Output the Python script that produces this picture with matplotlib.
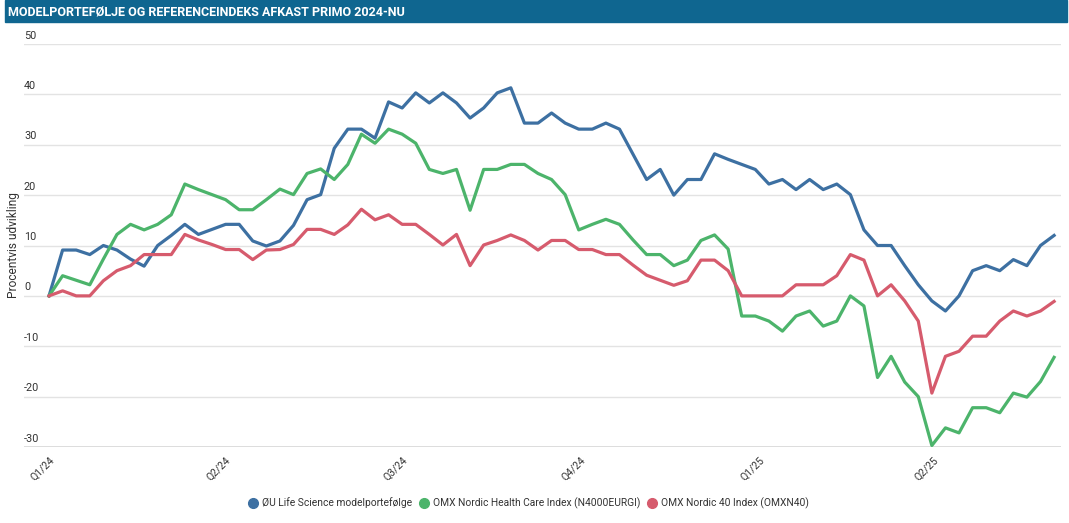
import pandas as pd
import matplotlib
matplotlib.use("Agg")
import matplotlib.pyplot as plt
from matplotlib.transforms import offset_copy

plt.rcParams['font.family'] = ['Roboto', 'DejaVu Sans']

# weekly observations, start of 2024 to now
dates = pd.date_range('2024-01-01', periods=75, freq='7D')

oeu_life_science = [
    0, 9.1, 9.1, 8.2, 10, 9.1, 7.3, 5.9, 10, 12, 14.2, 12.2, 13.2, 14.2, 14.2, 10.9,
    9.9, 10.9, 14, 19.1, 20.1, 29.3, 33.1, 33.1, 31.3, 38.5, 37.3, 40.3, 38.3, 40.3,
    38.3, 35.3, 37.3, 40.3, 41.3, 34.3, 34.3, 36.3, 34.3, 33.1, 33.1, 34.3, 33.1, 28.1,
    23.1, 25.1, 20, 23.1, 23.1, 28.2, 27.1, 26.1, 25.1, 22.2, 23.1, 21.1, 23.1, 21.1,
    22.2, 20.1, 13.1, 10, 10, 6, 2.2, -1, -3, 0, 5, 6, 5, 7.2, 6, 10, 12,
]
health_care = [
    0, 4, 3.1, 2.2, 7.3, 12.2, 14.2, 13.1, 14.2, 16.1, 22.2, 21.1, 20.1, 19.1, 17.1, 17.1,
    19.1, 21.2, 20.1, 24.3, 25.2, 23.1, 26.1, 32.1, 30.3, 33.1, 32.1, 30.3, 25.1, 24.3,
    25.1, 17, 25.1, 25.1, 26.1, 26.1, 24.3, 23.1, 20.1, 13.1, 14.2, 15.2, 14.2, 11.1,
    8.2, 8.2, 6, 7.1, 11, 12.1, 9.3, -4, -4, -5, -7, -4, -3, -6, -5, 0, -2, -16.2, -12,
    -17.1, -20, -29.7, -26.2, -27.2, -22.2, -22.2, -23.2, -19.3, -20.1, -17, -12.2,
]
omx_n40 = [
    0, 1, 0, 0, 3, 5, 6, 8.2, 8.2, 8.2, 12.2, 11.1, 10.2, 9.2, 9.2, 7.2, 9.1, 9.2, 10.2,
    13.2, 13.2, 12.2, 14.1, 17.2, 15.1, 16.1, 14.2, 14.2, 12.2, 10.1, 12.2, 6, 10.1, 11,
    12.1, 11, 9.1, 11, 11, 9.2, 9.2, 8.2, 8.2, 6.1, 4.1, 3.1, 2.1, 3, 7.1, 7.1, 5, 0, 0,
    0, 0, 2.2, 2.2, 2.2, 4, 8.2, 7.1, 0, 2.2, -1, -5, -19.3, -12, -11, -8, -8, -5, -3,
    -4, -3, -1.1,
]

series_names = [
    'ØU Life Science modelportefølge',
    'OMX Nordic Health Care Index (N4000EURGI)',
    'OMX Nordic 40 Index (OMXN40)',
]
colors = ['#3d70a2', '#4cb46b', '#d65b6d']

quarter_ticks = pd.to_datetime(['2024-01-01', '2024-04-01', '2024-07-01',
                                '2024-10-01', '2025-01-01', '2025-04-01'])
quarter_labels = ['Q1/24', 'Q2/24', 'Q3/24', 'Q4/24', 'Q1/25', 'Q2/25']
y_ticks = [50, 40, 30, 20, 10, 0, -10, -20, -30]

fig = plt.figure(figsize=(10.69, 5.23), dpi=100)

# title bar
fig.patches.append(plt.Rectangle((5 / 1069, 1 - 22 / 523), 1062 / 1069, 22 / 523,
                                 transform=fig.transFigure, color='#0f6690', zorder=0))
fig.text(8 / 1069, 1 - 11.5 / 523, 'MODELPORTEFØLJE OG REFERENCEINDEKS AFKAST PRIMO 2024-NU',
         color='white', fontsize=9, fontweight='bold', fontstretch='condensed',
         va='center', ha='left', family=['Roboto', 'DejaVu Sans'])

ax = fig.add_axes([24 / 1069, 1 - 447 / 523, (1060.5 - 24) / 1069, (447 - 44) / 523])

for vals, name, c in zip([oeu_life_science, health_care, omx_n40], series_names, colors):
    ax.plot(dates, vals, color=c, lw=2.3, label=name, solid_joinstyle='round', zorder=3)

ax.set_ylim(-30, 50)
ax.set_xlim(dates[0] - pd.Timedelta(days=12.9), dates[-1] + pd.Timedelta(days=3.3))

ax.set_yticks(y_ticks)
ax.tick_params(axis='y', left=False, labelleft=False)
ax.grid(axis='y', color='#e3e3e3', lw=1)
ax.set_axisbelow(True)
for s in ax.spines.values():
    s.set_visible(False)
ax.axhline(-30, color='#d8d8d8', lw=1.2, zorder=1)

trans = offset_copy(ax.get_yaxis_transform(), fig=fig, x=0, y=2.5, units='points')
for v in y_ticks:
    ax.text(0, v, str(v), transform=trans, ha='left', va='bottom', fontsize=7.8, color='#333333')

ax.set_xticks(quarter_ticks)
ax.set_xticklabels(quarter_labels, rotation=45, ha='right', va='top',
                   rotation_mode='anchor', fontsize=7.5, color='#333333')
ax.tick_params(axis='x', length=0, pad=6)

fig.text(14 / 1069, 1 - 245 / 523, 'Procentvis udvikling', rotation=90,
         ha='center', va='center', fontsize=8.6, color='#333333')

leg = fig.legend(*ax.get_legend_handles_labels(), loc='center', ncol=3,
                 bbox_to_anchor=(529 / 1069, 1 - 503 / 523), frameon=False,
                 fontsize=7.4, handlelength=0.8, handletextpad=0.5, columnspacing=0.7)
for h, c in zip(leg.legend_handles, colors):
    h.set_linestyle('')
    h.set_marker('o')
    h.set_markersize(7)
    h.set_markerfacecolor(c)
    h.set_markeredgecolor(c)
for t in leg.get_texts():
    t.set_color('#333333')

fig.savefig('out.png', dpi=100)
